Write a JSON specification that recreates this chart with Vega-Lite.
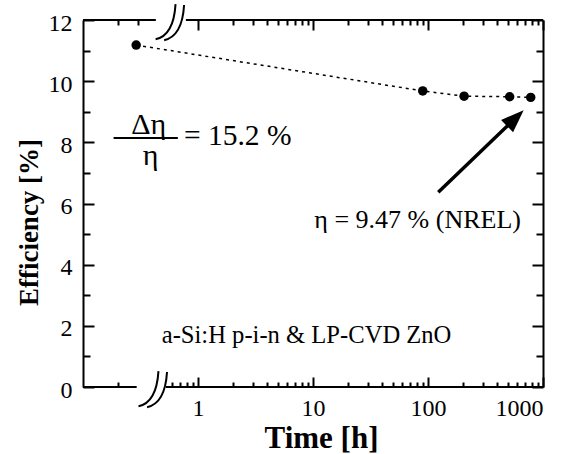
{
  "$schema": "https://vega.github.io/schema/vega-lite/v6.json",
  "width": 460,
  "height": 367,
  "autosize": {"type": "none"},
  "padding": {"left": 83, "top": 20, "right": 28, "bottom": 67},
  "config": {
    "view": {"stroke": null},
    "font": "Liberation Serif",
    "axis": {
      "labelFont": "Liberation Serif",
      "titleFont": "Liberation Serif",
      "labelColor": "black",
      "titleColor": "black",
      "tickColor": "black",
      "domainColor": "black",
      "tickWidth": 2,
      "domainWidth": 2,
      "grid": false,
      "labelFontSize": 24,
      "titleFontSize": 29,
      "titleFontWeight": "bold"
    }
  },
  "datasets": {
    "efficiency": [
      {"time": 0.29, "eff": 11.18},
      {"time": 90, "eff": 9.68},
      {"time": 206, "eff": 9.51},
      {"time": 513, "eff": 9.49},
      {"time": 782, "eff": 9.47}
    ],
    "frame": [
      {"x": 0.1, "x2": 0.293, "y": 0},
      {"x": 0.525, "x2": 1000, "y": 0},
      {"x": 0.1, "x2": 0.43, "y": 12},
      {"x": 0.785, "x2": 1000, "y": 12}
    ],
    "breaks": [
      {"x": 0.58, "y": 11.93},
      {"x": 0.412, "y": -0.07}
    ],
    "notes": [
      {"label": "a-Si:H p-i-n & LP-CVD ZnO", "x": 8.79, "y": 1.44}
    ],
    "nrel": [
      {"label": "η = 9.47 % (NREL)", "x": 81.3, "y": 5.2}
    ],
    "ratio": [
      {"label": "Δη", "x": 0.373, "y": 8.27},
      {"label": "η", "x": 0.388, "y": 7.25}
    ],
    "ratioValue": [{"label": "= 15.2 %", "x": 0.755, "y": 7.91}],
    "fractionBar": [{"x": 0.1845, "x2": 0.668, "y": 8.14}],
    "arrow": [{"x": 122.8, "y": 6.37, "x2": 575, "y2": 8.79}]
  },
  "layer": [
    {
      "data": {"name": "efficiency"},
      "mark": {"type": "line", "color": "black", "strokeWidth": 1.5, "strokeDash": [3, 4]},
      "encoding": {
        "x": {
          "field": "time", "type": "quantitative",
          "scale": {"type": "log", "domain": [0.1, 1000], "nice": false},
          "axis": {
            "orient": "bottom",
            "title": "Time [h]",
            "titleFontSize": 31,
            "titleX": 238,
            "titleY": 60,
            "titleBaseline": "alphabetic",
            "domain": false,
            "values": [0.2, 0.6, 0.7, 0.8, 0.9, 1, 2, 3, 4, 5, 6, 7, 8, 9, 10, 20, 30, 40, 50, 60, 70, 80, 90, 100, 200, 300, 400, 500, 600, 700, 800, 900, 1000],
            "labelExpr": "indexof([1, 10, 100, 1000], datum.value) >= 0 ? format(datum.value, 'd') : ''",
            "tickSize": {"condition": {"test": "indexof([1, 10, 100, 1000], datum.value) >= 0", "value": -10}, "value": -5},
            "labelPadding": 19,
            "labelBaseline": "top"
          }
        },
        "y": {
          "field": "eff", "type": "quantitative",
          "scale": {"domain": [0, 12], "nice": false},
          "axis": {
            "orient": "left",
            "title": "Efficiency [%]",
            "titleFontSize": 27,
            "titleX": -46,
            "titleY": 202,
            "titleBaseline": "alphabetic",
            "titleAngle": 270,
            "values": [0, 1, 2, 3, 4, 5, 6, 7, 8, 9, 10, 11, 12],
            "labelExpr": "datum.value % 2 == 0 ? datum.label : ''",
            "tickSize": {"condition": {"test": "datum.value % 2 == 0", "value": -11}, "value": -7},
            "labelPadding": 22,
            "labelOffset": 3
          }
        }
      }
    },
    {
      "data": {"name": "efficiency"},
      "mark": {"type": "point", "filled": true, "color": "black", "size": 90, "opacity": 1},
      "encoding": {
        "x": {
          "field": "time", "type": "quantitative",
          "axis": {
            "orient": "top",
            "title": null,
            "labels": false,
            "domain": false,
            "values": [0.2, 0.3, 1, 2, 3, 4, 5, 6, 7, 8, 9, 10, 20, 30, 40, 50, 60, 70, 80, 90, 100, 200, 300, 400, 500, 600, 700, 800, 900, 1000],
            "tickSize": {"condition": {"test": "indexof([1, 10, 100, 1000], datum.value) >= 0", "value": -10}, "value": -5}
          }
        },
        "y": {
          "field": "eff", "type": "quantitative",
          "axis": {
            "orient": "right",
            "title": null,
            "labels": false,
            "values": [0, 1, 2, 3, 4, 5, 6, 7, 8, 9, 10, 11, 12],
            "tickSize": {"condition": {"test": "datum.value % 2 == 0", "value": -11}, "value": -7}
          }
        }
      }
    },
    {
      "data": {"name": "frame"},
      "mark": {"type": "rule", "color": "black", "strokeWidth": 2},
      "encoding": {
        "x": {"field": "x", "type": "quantitative", "axis": null},
        "x2": {"field": "x2"},
        "y": {"field": "y", "type": "quantitative", "axis": null}
      }
    },
    {
      "data": {"name": "breaks"},
      "mark": {
        "type": "point",
        "filled": false,
        "color": "black",
        "strokeWidth": 2,
        "opacity": 1,
        "size": 1444,
        "shape": "M -0.8 0.9 Q 0.15 0.7 0.25 -0.95 M -0.35 0.95 Q 0.6 0.75 0.7 -0.9"
      },
      "encoding": {
        "x": {"field": "x", "type": "quantitative", "axis": null},
        "y": {"field": "y", "type": "quantitative", "axis": null}
      }
    },
    {
      "data": {"name": "notes"},
      "mark": {"type": "text", "font": "Liberation Serif", "fontSize": 24.6, "align": "center", "baseline": "alphabetic", "color": "black"},
      "encoding": {
        "x": {"field": "x", "type": "quantitative", "axis": null},
        "y": {"field": "y", "type": "quantitative", "axis": null},
        "text": {"field": "label"}
      }
    },
    {
      "data": {"name": "nrel"},
      "mark": {"type": "text", "font": "Liberation Serif", "fontSize": 26, "align": "center", "baseline": "alphabetic", "color": "black"},
      "encoding": {
        "x": {"field": "x", "type": "quantitative", "axis": null},
        "y": {"field": "y", "type": "quantitative", "axis": null},
        "text": {"field": "label"}
      }
    },
    {
      "data": {"name": "ratio"},
      "mark": {"type": "text", "font": "Liberation Serif", "fontSize": 30, "align": "center", "baseline": "alphabetic", "color": "black"},
      "encoding": {
        "x": {"field": "x", "type": "quantitative", "axis": null},
        "y": {"field": "y", "type": "quantitative", "axis": null},
        "text": {"field": "label"}
      }
    },
    {
      "data": {"name": "ratioValue"},
      "mark": {"type": "text", "font": "Liberation Serif", "fontSize": 29.5, "align": "left", "baseline": "alphabetic", "color": "black"},
      "encoding": {
        "x": {"field": "x", "type": "quantitative", "axis": null},
        "y": {"field": "y", "type": "quantitative", "axis": null},
        "text": {"field": "label"}
      }
    },
    {
      "data": {"name": "fractionBar"},
      "mark": {"type": "rule", "color": "black", "strokeWidth": 2},
      "encoding": {
        "x": {"field": "x", "type": "quantitative", "axis": null},
        "x2": {"field": "x2"},
        "y": {"field": "y", "type": "quantitative", "axis": null}
      }
    },
    {
      "data": {"name": "arrow"},
      "mark": {"type": "rule", "color": "black", "strokeWidth": 3.5},
      "encoding": {
        "x": {"field": "x", "type": "quantitative", "axis": null},
        "y": {"field": "y", "type": "quantitative", "axis": null},
        "x2": {"field": "x2"},
        "y2": {"field": "y2"}
      }
    },
    {
      "data": {"name": "arrow"},
      "mark": {"type": "point", "filled": true, "color": "black", "opacity": 1, "size": 529, "angle": 46, "shape": "M 0 -1 L 0.75 1 L -0.75 1 Z"},
      "encoding": {
        "x": {"field": "x2", "type": "quantitative", "axis": null},
        "y": {"field": "y2", "type": "quantitative", "axis": null}
      }
    }
  ],
  "resolve": {"axis": {"x": "independent", "y": "independent"}}
}
